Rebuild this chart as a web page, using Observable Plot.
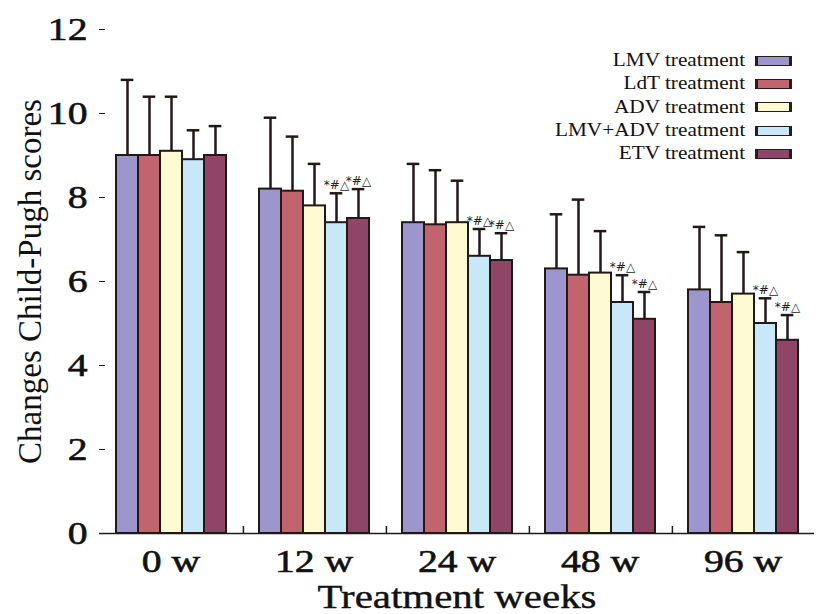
<!DOCTYPE html>
<html><head><meta charset="utf-8">
<script src="https://cdn.jsdelivr.net/npm/d3@7"></script>
<script src="https://cdn.jsdelivr.net/npm/@observablehq/plot@0.6"></script>
<style>
body{margin:0;background:#fff;}
#chart{position:relative;width:816px;height:614px;font-family:"Liberation Serif",serif;}
#legend{position:absolute;right:24px;top:49px;}
.row{display:flex;align-items:center;justify-content:flex-end;height:23.3px;}
.row span{font-size:18px;color:#111;transform:scaleX(1.18);transform-origin:right center;margin-right:10px;white-space:nowrap;}
.sw{width:37px;height:10px;box-sizing:border-box;border-style:solid;border-color:#2a1c1c;border-width:1.5px 3px;}
[aria-label="y-axis tick label"]{font-size:32px;stroke:#111;stroke-width:0.6px;}
[aria-label="y-axis label"]{font-size:33px;}
[aria-label="fx-axis tick label"]{font-size:32px;stroke:#111;stroke-width:0.6px;}
[aria-label="fx-axis label"]{font-size:33px;stroke:#111;stroke-width:0.4px;}
</style>
</head><body>
<div id="chart"><div id="legend"></div></div>
<script>
const groups = ["0 w", "12 w", "24 w", "48 w", "96 w"];
const series = ["LMV treatment", "LdT treatment", "ADV treatment", "LMV+ADV treatment", "ETV treatment"];
const colors = ["#9c96cc", "#c2646d", "#fefbd3", "#c9e8f7", "#8f4566"];
const yTicks = [0, 2, 4, 6, 8, 10, 12];

const lmvMean  = [9.0, 8.2, 7.4, 6.3, 5.8];
const lmvUpper = [10.8, 9.9, 8.8, 7.6, 7.3];
const ldtMean  = [9.0, 8.15, 7.35, 6.15, 5.5];
const ldtUpper = [10.4, 9.45, 8.65, 7.95, 7.1];
const advMean  = [9.1, 7.8, 7.4, 6.2, 5.7];
const advUpper = [10.4, 8.8, 8.4, 7.2, 6.7];
const comboMean  = [8.9, 7.4, 6.6, 5.5, 5.0];
const comboUpper = [9.6, 8.1, 7.25, 6.15, 5.6];
const etvMean  = [9.0, 7.5, 6.5, 5.1, 4.6];
const etvUpper = [9.7, 8.2, 7.15, 5.75, 5.2];
const plainNotes = ["", "", "", "", ""];
const sigNotes = ["", "*#△", "*#△", "*#△", "*#△"];

const means = [lmvMean, ldtMean, advMean, comboMean, etvMean];
const uppers = [lmvUpper, ldtUpper, advUpper, comboUpper, etvUpper];
const notes = [plainNotes, plainNotes, plainNotes, sigNotes, sigNotes];

const rows = [];
groups.forEach((g, gi) => series.forEach((s, si) => rows.push({
  group: g, series: s, mean: means[si][gi], upper: uppers[si][gi], note: notes[si][gi]
})));

const W = 816, H = 614, mL = 97, mR = 0, mT = 29, mB = 81;
const pOuter = 0.71;
const facetW = (W - mL - mR) / groups.length;
const step = facetW / (series.length + 2 * pOuter);
const ink = "#231818";

const chart = Plot.plot({
  width: W, height: H,
  marginLeft: mL, marginRight: mR, marginTop: mT, marginBottom: mB,
  style: {fontFamily: "Liberation Serif, serif", background: "white", color: "#111", overflow: "visible"},
  fx: {domain: groups, padding: 0},
  x: {domain: series, paddingInner: 0, paddingOuter: pOuter, axis: null},
  y: {domain: [0, 12]},
  color: {domain: series, range: colors},
  marks: [
    Plot.axisY({ticks: yTicks, tickSize: 0, tickPadding: 12, label: "Changes Child-Pugh scores",
      labelAnchor: "center", labelOffset: 82, labelArrow: "none"}),
    Plot.axisY({ticks: yTicks, tickSize: 6, dx: 6, tickFormat: () => "", label: null, line: true, stroke: ink}),
    Plot.axisFx({anchor: "bottom", tickSize: 0, tickPadding: 16, label: "Treatment weeks",
      labelAnchor: "center", labelOffset: 74}),
    Plot.barY(rows, {fx: "group", x: "series", y: "mean", fill: "series", stroke: ink, strokeWidth: 2}),
    Plot.ruleX(rows, {fx: "group", x: "series", y1: "mean", y2: "upper", stroke: ink, strokeWidth: 2.5}),
    Plot.tickY(rows, {fx: "group", x: "series", y: "upper", stroke: ink, strokeWidth: 2.5, inset: 4.7}),
    Plot.text(rows, {fx: "group", x: "series", y: "upper", text: "note", dy: -4, lineAnchor: "bottom",
      fontSize: 12, fontFamily: "DejaVu Sans", fill: "#222"}),
    Plot.ruleY([0], {stroke: ink, strokeWidth: 1.5}),
    Plot.ruleX(groups.slice(1), {fx: d => d, x: () => series[0], y1: 0, insetTop: -7,
      dx: -(pOuter * step + step / 2), stroke: ink, strokeWidth: 1.5})
  ]
});

const root = document.getElementById("chart");
root.insertBefore(chart, root.firstChild);

// the reference's lettering is horizontally stretched: widen the glyphs about their anchor
const stretch = 1.24;
chart.querySelectorAll('[aria-label="y-axis tick label"] text, [aria-label="fx-axis tick label"] text, [aria-label="fx-axis label"] text')
  .forEach(t => {
    const tr = t.getAttribute("transform");
    if (tr) t.setAttribute("transform", tr + ` scale(${stretch},1)`);
  });

const legend = document.getElementById("legend");
series.forEach((s, i) => {
  const row = document.createElement("div");
  row.className = "row";
  const label = document.createElement("span");
  label.textContent = s;
  const sw = document.createElement("div");
  sw.className = "sw";
  sw.style.background = colors[i];
  row.appendChild(label);
  row.appendChild(sw);
  legend.appendChild(row);
});
</script>
</body></html>
